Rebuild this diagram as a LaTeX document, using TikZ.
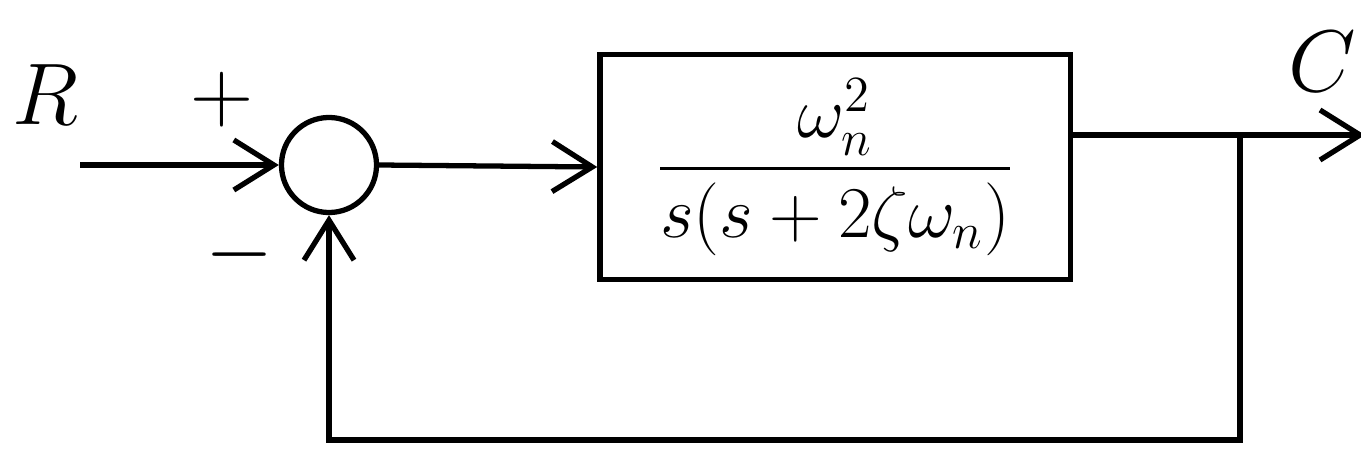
\documentclass[tikz,border=0pt]{standalone}
\usepackage{amsmath}
\usepackage{tikz}
\usetikzlibrary{arrows.meta}

\tikzset{
    sumnode/.style={draw, circle, minimum size=0.95cm, inner sep=0pt},
    plantbox/.style={draw, minimum width=4.7cm, minimum height=2.25cm},
    signal/.style={font=\Huge},
}

\begin{document}
\begin{tikzpicture}[x=0.01cm, y=-0.01cm, line width=1.5pt,
    >={Straight Barb[length=4mm,width=5mm]}]
    \useasboundingbox (0,0) rectangle (1361,464);

    % Blocks
    \node[sumnode] (sum) at (329,165) {};
    \node[plantbox] (plant) at (835,167)
        {\huge $\dfrac{\omega_n^2}{s(s+2\zeta\omega_n)}$};

    % Input and output
    \coordinate (in) at (80,165);
    \coordinate (out) at (1365,135);
    \coordinate (branch) at (1240,135);
    \coordinate (bottom) at (1240,440);
    \node[signal] (rlabel) at (45,95) {$R$};
    \node[signal] (clabel) at (1322,62) {$C$};
    \node[signal] (plus) at (222,100) {$+$};
    \node[signal] (minus) at (240,255) {$-$};

    % Forward path
    \draw[->] (in) -- (sum.west);
    \draw[->] (sum.east) -- (plant.west);
    \draw[->] (plant.east |- out) -- (out);

    % Feedback path
    \draw[->] (branch) -- (bottom) -| (sum.south);
\end{tikzpicture}
\end{document}
